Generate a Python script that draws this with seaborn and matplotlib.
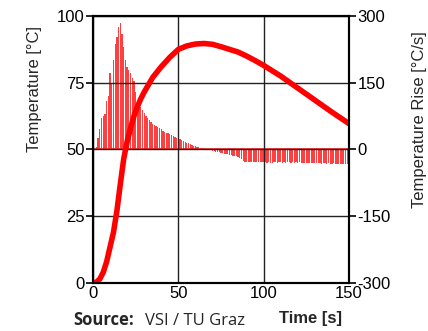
import numpy as np
import pandas as pd
import matplotlib
matplotlib.use('Agg')
import matplotlib.pyplot as plt
import seaborn as sns

# ── data ──
time_s = [0, 2, 4, 6, 8, 10, 12, 14, 16, 18, 20, 22, 24, 26, 28, 30, 32, 35,
          40, 45, 50, 55, 60, 65, 70, 75, 80, 85, 90, 95, 100, 110, 120, 130,
          140, 150]
temp_c = [0, 0.3, 1.5, 4, 8, 13.5, 19, 27, 37, 46.5, 53, 58, 62.5, 66, 69,
          71.5, 73.7, 77, 81, 84.5, 87.5, 88.8, 89.5, 89.7, 89.4, 88.5, 87.5,
          86.5, 85, 83.3, 81.5, 77.5, 73, 68.5, 64, 59.7]

# temperature rise, one sample per second (t = 0 .. 150)
rise_t = list(range(0, 151))
rise_cs = [
    0, 0, 6, 25, 45, 70, 75, 80, 110, 120,            # 0-9
    171, 150, 200, 238, 253, 275, 285, 260, 230, 200,  # 10-19
    185, 178, 172, 160, 155, 130, 112, 100, 96, 88,    # 20-29
    81, 75, 70, 66, 62, 58, 55, 53, 51, 48,            # 30-39
    45, 42, 40, 38, 36, 34, 32, 30, 28, 26,            # 40-49
    25, 23, 21, 19, 17, 15, 14, 12, 10, 8,             # 50-59
    7, 6, 5, 4, 3, 2, 1, 0, -1, -2,                    # 60-69
    -3, -4, -5, -5, -6, -7, -8, -9, -10, -11,          # 70-79
    -13, -13, -14, -15, -15, -16, -18, -22, -26, -27,  # 80-89
    -27, -28, -28, -27, -28, -29, -28, -28, -29, -28,  # 90-99
    -28, -29, -30, -29, -30, -30, -29, -29, -30, -29,  # 100-109
    -29, -30, -29, -30, -29, -29, -30, -29, -30, -29,  # 110-119
    -30, -29, -30, -30, -31, -30, -30, -31, -30, -31,  # 120-129
    -31, -30, -31, -31, -32, -31, -31, -32, -31, -32,  # 130-139
    -32, -31, -32, -32, -33, -32, -32, -33, -33, -33,  # 140-149
    -33,                                               # 150
]

temp_df = pd.DataFrame({'time': time_s, 'temp': temp_c})

sns.set_style('white')
plt.rcParams['font.family'] = ['Liberation Sans', 'DejaVu Sans']
plt.rcParams['axes.unicode_minus'] = False

fig = plt.figure(figsize=(4.28, 3.31), dpi=100)
ax1 = fig.add_axes([0.2173, 0.145, 0.598, 0.8067])
ax2 = ax1.twinx()

# rise rate as thin bars on the right axis
ax2.bar(rise_t, rise_cs, width=0.75, color='#ff4040', linewidth=0)
ax2.axhline(0, xmin=0, xmax=1, color='#ff2020', linewidth=1.2)
ax2.set_ylim(-300, 300)
ax2.set_yticks([-300, -150, 0, 150, 300])
ax2.set_ylabel('Temperature Rise [°C/s]', fontsize=12)
ax2.yaxis.set_label_coords(1.245, 0.61)

# temperature curve on the left axis, drawn on top
sns.lineplot(data=temp_df, x='time', y='temp', ax=ax1, color='#ff0000',
             linewidth=4, solid_capstyle='round')
ax1.set_zorder(ax2.get_zorder() + 1)
ax1.patch.set_visible(False)

ax1.set_xlim(0, 150)
ax1.set_ylim(0, 100)
ax1.set_xticks([0, 50, 100, 150])
ax1.set_yticks([0, 25, 50, 75, 100])
ax1.grid(True, color='#222222', linewidth=1)
ax1.set_ylabel('Temperature [°C]', fontsize=12)
ax1.yaxis.set_label_coords(-0.2, 0.727)
ax1.set_xlabel('')

for ax in (ax1, ax2):
    for sp in ax.spines.values():
        sp.set_color('black')
        sp.set_linewidth(1.5)
    ax.tick_params(axis='both', labelsize=12, colors='black', length=5,
                   width=1.2, pad=1)
ax1.tick_params(axis='x', length=0, pad=2)

fig.text(0.725, 0.025, 'Time [s]', fontsize=12, fontweight='bold', ha='center')
fig.text(0.172, 0.018, 'Source:', fontsize=12, fontweight='bold',
         family='Open Sans')
fig.text(0.338, 0.018, 'VSI / TU Graz', fontsize=12, family='Open Sans')

fig.savefig('out.png', dpi=100)
